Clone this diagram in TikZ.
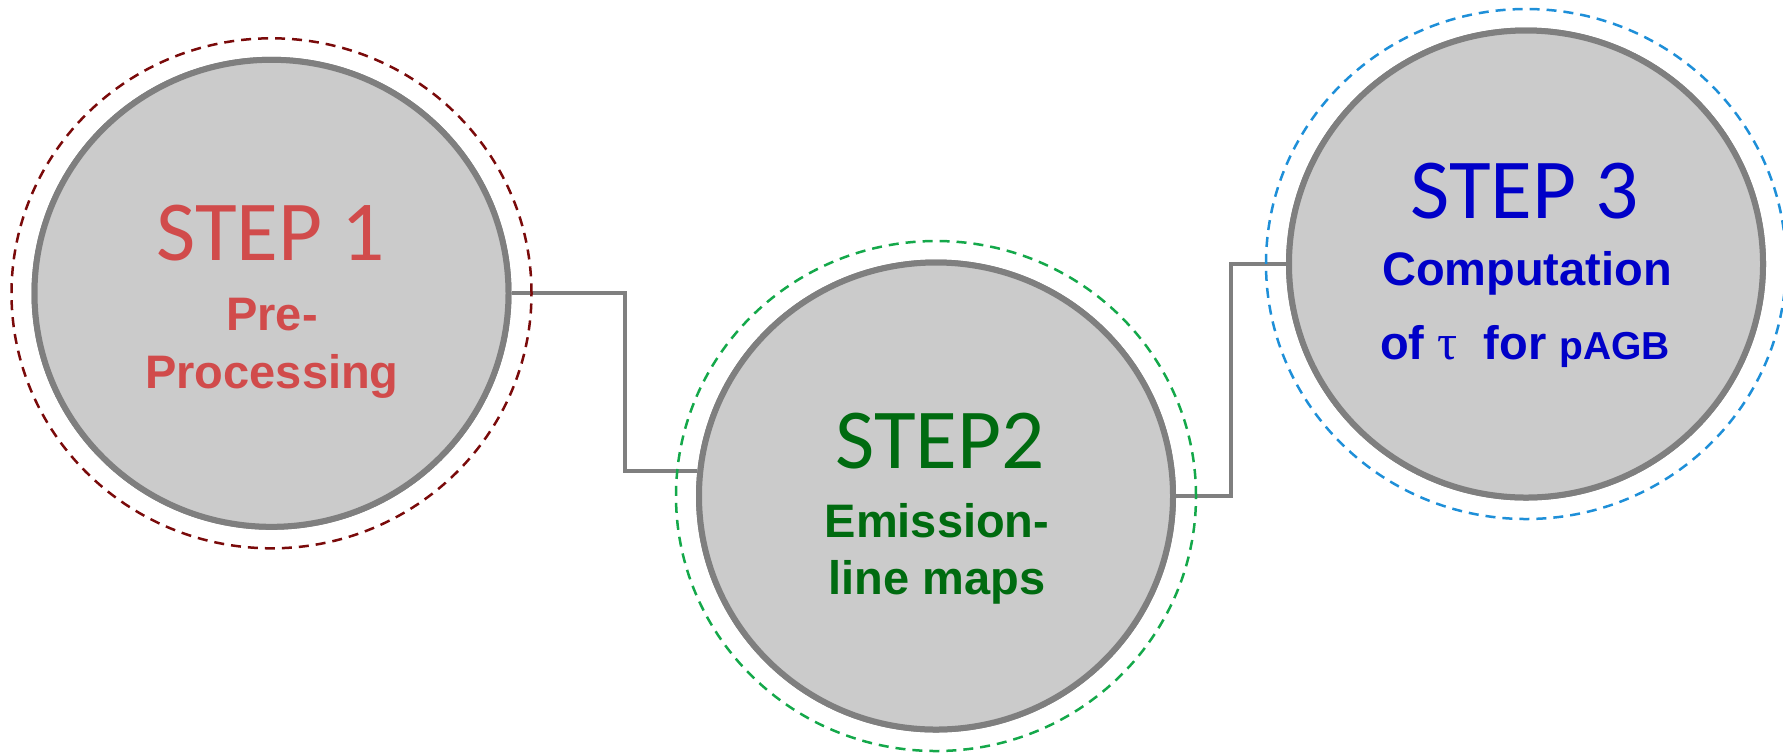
\documentclass[tikz,border=0pt]{standalone}
\usepackage{fontspec}
\setmainfont{Liberation Sans}
\newfontfamily\stepfont{Carlito}
\newfontfamily\greekfont{Liberation Serif}
\usetikzlibrary{shapes.geometric}

\definecolor{ringgray}{HTML}{7F7F7F}
\definecolor{discfill}{HTML}{CBCBCB}
\definecolor{haloone}{HTML}{7A0A0A}
\definecolor{halotwo}{HTML}{14A84A}
\definecolor{halothree}{HTML}{1E8FD8}
\definecolor{textone}{HTML}{D14B4B}
\definecolor{texttwo}{HTML}{006B10}
\definecolor{textthree}{HTML}{0000C8}

\begin{document}
\begin{tikzpicture}[x=0.5pt,y=-0.5pt,
  disc/.style={ellipse, draw=ringgray, fill=discfill, line width=3pt,
    minimum width=237pt, minimum height=233.5pt, inner sep=0pt},
  halo/.style={ellipse, draw=#1, dash pattern=on 5pt off 3.5pt, line width=1.25pt,
    minimum width=260pt, minimum height=255pt, inner sep=0pt},
  link/.style={draw=ringgray, line width=2pt},
  steplabel/.style={anchor=base, inner sep=0pt,
    font=\stepfont\fontsize{42.7pt}{50pt}\selectfont},
  bodylabel/.style={anchor=base, inner sep=0pt,
    font=\bfseries\fontsize{23.5pt}{29pt}\selectfont},
]
\useasboundingbox (0,0) rectangle (1783,752);

% bends of the two connectors
\coordinate (k1) at (625,293.3);
\coordinate (k2) at (1231,496);

% discs (named first, drawn on top of the connectors below)
\path (271.5,293.3) node[disc] (c1) {};
\path (936,496) node[disc] (c2) {};
\path (1526,264) node[disc] (c3) {};

% connectors
\draw[link] (c1.east) -- (k1) |- (c2.174);
\draw[link] (c2.east) -- (k2) |- (c3.west);

% dashed halos around each disc
\node[halo=haloone] (h1) at (c1) {};
\node[halo=halotwo] (h2) at (c2) {};
\node[halo=halothree] (h3) at (c3) {};

% discs redrawn over the halos and connector ends
\node[disc] (d1) at (c1) {};
\node[disc] (d2) at (c2) {};
\node[disc] (d3) at (c3) {};

% step 1
\node[steplabel, text=textone] (s1) at (271,260) {STEP 1};
\node[bodylabel, text=textone] (s1a) at (272,330) {Pre-};
\node[bodylabel, text=textone] (s1b) at (272,388) {Processing};

% step 2
\node[steplabel, text=texttwo] (s2) at (940,468) {STEP2};
\node[bodylabel, text=texttwo] (s2a) at (937,537) {Emission-};
\node[bodylabel, text=texttwo] (s2b) at (937,594) {line maps};

% step 3
\node[steplabel, text=textthree] (s3) at (1525,218) {STEP 3};
\node[bodylabel, text=textthree] (s3a) at (1527,285) {Computation};
\node[bodylabel, text=textthree] (s3b) at (1525,359)
  {of {\greekfont\mdseries\fontsize{25pt}{29pt}\selectfont τ}\ \ for {\fontsize{19.5pt}{24pt}\selectfont pAGB}};
\end{tikzpicture}
\end{document}
